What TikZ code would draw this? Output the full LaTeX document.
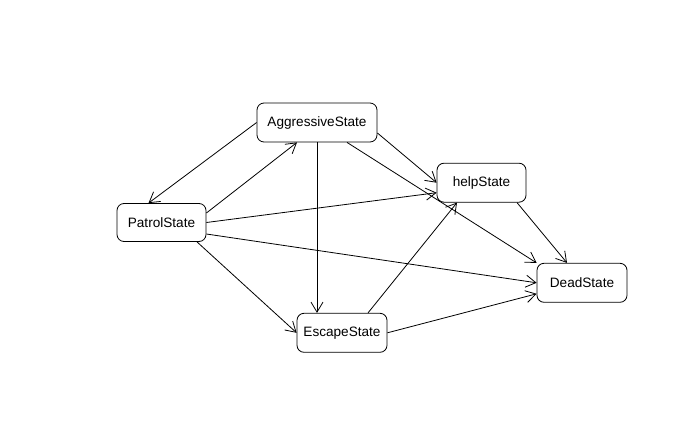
\documentclass[tikz,border=0pt]{standalone}
\usepackage{fontspec}
\setmainfont{Liberation Sans}
\usetikzlibrary{arrows.meta}
\tikzset{>={Straight Barb[length=10pt,width=12pt]}}
\tikzstyle{state}=[draw,rounded corners=7pt,line width=0.8pt,inner sep=0pt,
  minimum height=39pt,font=\fontsize{13.6}{16}\selectfont]
\tikzstyle{trans}=[->,line width=0.8pt]

\begin{document}
\begin{tikzpicture}[x=1pt,y=-1pt]
  \useasboundingbox (0,0) rectangle (699,447);
  % states
  \node[state,minimum width=120pt] (aggr) at (317,122.5) {AggressiveState};
  \node[state,minimum width=89pt,minimum height=38pt] (patrol) at (161.5,222.5) {PatrolState};
  \node[state,minimum width=89pt] (help) at (481.5,182.7) {helpState};
  \node[state,minimum width=90pt] (dead) at (582,282.8) {DeadState};
  \node[state,minimum width=90pt] (escape) at (342,332.8) {EscapeState};
  % transitions
  \draw[trans] (aggr.west) -- ([xshift=-13pt]patrol.north);
  \draw[trans] ([yshift=9.5pt]patrol.east) -- ([xshift=-20pt]aggr.south);
  \draw[trans] (aggr.south) -- (aggr.south |- escape.north);
  \draw[trans] ([yshift=-10.5pt]aggr.east) -- (help.west);
  \draw[trans] ([xshift=30pt]aggr.south) -- (dead.north west);
  \draw[trans] (patrol.east) -- ([yshift=-10pt]help.west);
  \draw[trans] ([yshift=-11.5pt]patrol.east) -- (dead.west);
  \draw[trans] ([xshift=35.5pt]patrol.south) -- (escape.west);
  \draw[trans] ([xshift=26pt]escape.north) -- ([xshift=-24.5pt]help.south);
  \draw[trans] (escape.east) -- ([yshift=-11pt]dead.west);
  \draw[trans] ([xshift=35.5pt]help.south) -- ([xshift=-15pt]dead.north);
\end{tikzpicture}
\end{document}
